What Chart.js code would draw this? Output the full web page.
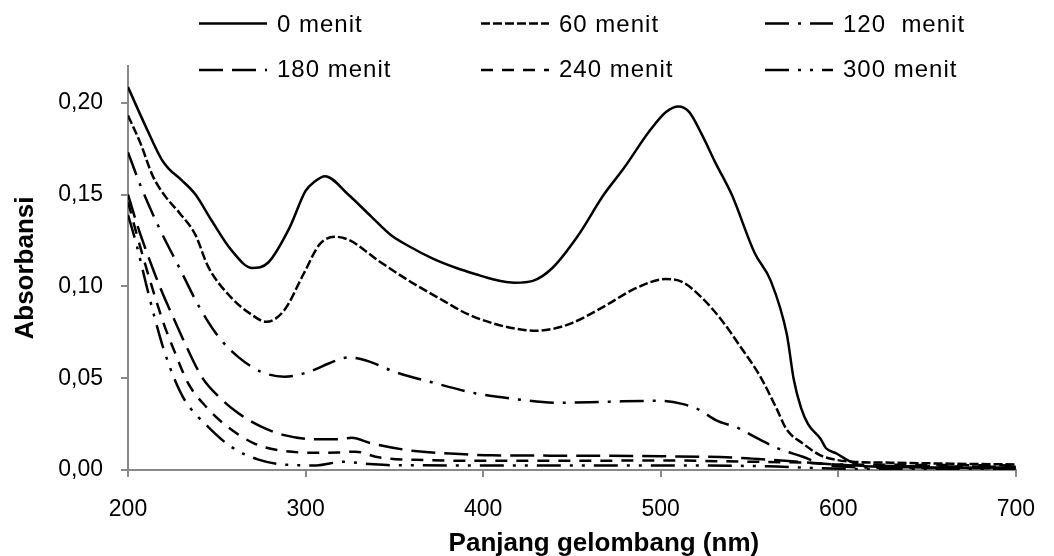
<!DOCTYPE html>
<html>
<head>
<meta charset="utf-8">
<title>Absorbansi vs panjang gelombang</title>
<script src="https://cdn.jsdelivr.net/npm/chart.js@4.4.1/dist/chart.umd.min.js"></script>
<style>
  html, body { margin: 0; padding: 0; background: #fff; }
</style>
</head>
<body>
<canvas id="spectra" width="1054" height="556"></canvas>
<script>
// spectra: wavelength (nm) and absorbance per irradiation time
const wl0 = [200, 210, 219, 223, 230, 238, 247, 258, 270, 279, 291, 300, 305, 311, 324, 337, 348, 358, 372, 385, 398, 405, 418, 428, 439, 453, 468, 479, 494, 503, 510, 516, 523, 531, 540, 553, 562, 571, 575, 579, 583, 590, 593, 599, 606, 615, 640, 670, 700];
const abs0 = [0.2085, 0.187, 0.169, 0.164, 0.158, 0.150, 0.136, 0.120, 0.110, 0.113, 0.132, 0.152, 0.157, 0.160, 0.150, 0.138, 0.128, 0.122, 0.115, 0.110, 0.106, 0.104, 0.102, 0.103, 0.110, 0.127, 0.150, 0.164, 0.185, 0.195, 0.198, 0.195, 0.183, 0.167, 0.150, 0.118, 0.103, 0.074, 0.049, 0.034, 0.025, 0.017, 0.012, 0.009, 0.005, 0.002, 0.0015, 0.0012, 0.0015];

const wl60 = [200, 207, 214, 221, 229, 238, 245, 258, 269, 278, 288, 299, 308, 317, 325, 341, 360, 378, 391, 405, 418, 430, 440, 450, 468, 486, 503, 512, 523, 534, 545, 556, 565, 571, 580, 590, 599, 608, 630, 660, 700];
const abs60 = [0.193, 0.178, 0.160, 0.149, 0.140, 0.128, 0.111, 0.094, 0.085, 0.0807, 0.087, 0.107, 0.123, 0.127, 0.125, 0.114, 0.102, 0.092, 0.085, 0.080, 0.077, 0.0758, 0.077, 0.080, 0.089, 0.099, 0.104, 0.1025, 0.094, 0.082, 0.067, 0.051, 0.034, 0.022, 0.0145, 0.008, 0.0055, 0.0045, 0.004, 0.0035, 0.003];

const wl120 = [200, 207, 217, 229, 240, 251, 262, 275, 288, 302, 313, 324, 336, 350, 372, 396, 415, 442, 470, 498, 512, 522, 531, 544, 553, 566, 580, 590, 600, 630, 700];
const abs120 = [0.173, 0.155, 0.133, 0.110, 0.089, 0.0725, 0.0616, 0.0535, 0.0508, 0.0535, 0.058, 0.0613, 0.059, 0.0535, 0.0475, 0.0417, 0.039, 0.0366, 0.0372, 0.0377, 0.036, 0.0326, 0.0272, 0.0227, 0.018, 0.0118, 0.0072, 0.0036, 0.002, 0.0012, 0.001];

const wl180 = [200, 205, 210, 215, 220, 226, 233, 242, 251, 262, 275, 288, 306, 318, 326, 337, 360, 387, 405, 450, 500, 540, 570, 590, 610, 650, 700];
const abs180 = [0.150, 0.134, 0.120, 0.107, 0.095, 0.082, 0.067, 0.050, 0.040, 0.031, 0.0236, 0.019, 0.0167, 0.0168, 0.0175, 0.0145, 0.0105, 0.0087, 0.008, 0.0078, 0.0075, 0.0068, 0.005, 0.0035, 0.0025, 0.002, 0.0018];

const wl240 = [200, 205, 210, 215, 220, 226, 234, 244, 256, 271, 284, 304, 318, 328, 341, 369, 396, 450, 500, 550, 580, 600, 640, 700];
const abs240 = [0.146, 0.128, 0.111, 0.095, 0.080, 0.065, 0.047, 0.0344, 0.0236, 0.0145, 0.0109, 0.0094, 0.0095, 0.010, 0.0069, 0.0054, 0.005, 0.005, 0.0052, 0.0045, 0.004, 0.003, 0.0028, 0.0025];

const wl300 = [200, 205, 210, 215, 220, 226, 232, 245, 258, 273, 290, 306, 321, 336, 350, 400, 500, 560, 590, 620, 700];
const abs300 = [0.139, 0.122, 0.102, 0.083, 0.066, 0.050, 0.038, 0.0236, 0.0127, 0.0058, 0.0028, 0.0025, 0.0045, 0.0033, 0.0026, 0.0025, 0.0025, 0.002, 0.001, 0.0005, 0.0005];

const seriesLabels = ['0 menit', '60 menit', '120  menit', '180 menit', '240 menit', '300 menit'];
const xTicks = [200, 300, 400, 500, 600, 700];
const yTicks = [0, 0.05, 0.10, 0.15, 0.20];

// line styles (Excel-like dash patterns)
const dashes = [[], [9, 3], [24, 9, 3, 9], [24, 9], [12, 9], [24, 9, 3, 9, 3, 9]];

const FONT = '"Liberation Sans", Arial, sans-serif';
const AXIS_GREY = '#898989';

const wls = [wl0, wl60, wl120, wl180, wl240, wl300];
const absVals = [abs0, abs60, abs120, abs180, abs240, abs300];

const datasets = seriesLabels.map((label, i) => ({
    label: label,
    data: wls[i].map((x, j) => ({ x: x, y: absVals[i][j] })),
    borderColor: '#000',
    borderWidth: 2.5,
    borderDash: dashes[i],
    pointRadius: 0,
    fill: false,
    cubicInterpolationMode: 'monotone'
}));

// legend drawn in two rows of three, like the original
const legendTextX = [277, 559, 843];
const legendLineY = [23.5, 70];
const legendBaseY = [32, 77];

const spectraLegend = {
    id: 'spectraLegend',
    afterDraw(chart) {
        const ctx = chart.ctx;
        chart.data.datasets.forEach((ds, i) => {
            const tx = legendTextX[i % 3];
            const row = Math.floor(i / 3);
            ctx.save();
            ctx.strokeStyle = ds.borderColor;
            ctx.lineWidth = ds.borderWidth;
            ctx.setLineDash(ds.borderDash);
            ctx.beginPath();
            ctx.moveTo(tx - 78, legendLineY[row]);
            ctx.lineTo(tx - 10, legendLineY[row]);
            ctx.stroke();
            ctx.setLineDash([]);
            ctx.fillStyle = '#000';
            ctx.font = '24px ' + FONT;
            ctx.letterSpacing = '1px';
            ctx.textAlign = 'left';
            ctx.textBaseline = 'alphabetic';
            ctx.fillText(ds.label, tx, legendBaseY[row]);
            ctx.restore();
        });
    }
};

// axis titles (x title sits a bit right of the plot centre in the original)
const axisTitles = {
    id: 'axisTitles',
    afterDraw(chart) {
        const ctx = chart.ctx;
        const area = chart.chartArea;
        ctx.save();
        ctx.fillStyle = '#000';
        ctx.font = 'bold 26px ' + FONT;
        ctx.textAlign = 'center';
        ctx.textBaseline = 'alphabetic';
        ctx.fillText('Panjang gelombang (nm)', (area.left + area.right) / 2 + 32, 551);
        ctx.translate(33, (area.top + area.bottom) / 2);
        ctx.rotate(-Math.PI / 2);
        ctx.fillText('Absorbansi', 0, 0);
        ctx.restore();
    }
};

Chart.defaults.font.family = FONT;
Chart.defaults.color = '#000';

new Chart(document.getElementById('spectra'), {
    type: 'line',
    data: { datasets: datasets },
    options: {
        responsive: false,
        animation: false,
        layout: { padding: { left: 0, top: 66, right: 21, bottom: 0 } },
        plugins: {
            legend: { display: false },
            tooltip: { enabled: false }
        },
        scales: {
            x: {
                type: 'linear',
                min: xTicks[0],
                max: xTicks[xTicks.length - 1],
                afterBuildTicks: (scale) => { scale.ticks = xTicks.map(v => ({ value: v })); },
                afterFit: (scale) => { scale.height = 86; },
                ticks: {
                    font: { size: 23 },
                    padding: 19,
                    maxRotation: 0,
                    callback: (v) => String(v)
                },
                grid: { drawOnChartArea: false, drawTicks: true, tickLength: 7, color: AXIS_GREY, lineWidth: 2 },
                border: { color: AXIS_GREY, width: 2 }
            },
            y: {
                min: 0,
                max: 0.22,
                afterBuildTicks: (scale) => { scale.ticks = yTicks.map(v => ({ value: v })); },
                afterFit: (scale) => { scale.width = 128; },
                ticks: {
                    font: { size: 23 },
                    padding: 18,
                    callback: (v) => v.toFixed(2).replace('.', ',')
                },
                grid: { drawOnChartArea: false, drawTicks: true, tickLength: 7, color: AXIS_GREY, lineWidth: 2 },
                border: { color: AXIS_GREY, width: 2 }
            }
        }
    },
    plugins: [spectraLegend, axisTitles]
});
</script>
</body>
</html>
